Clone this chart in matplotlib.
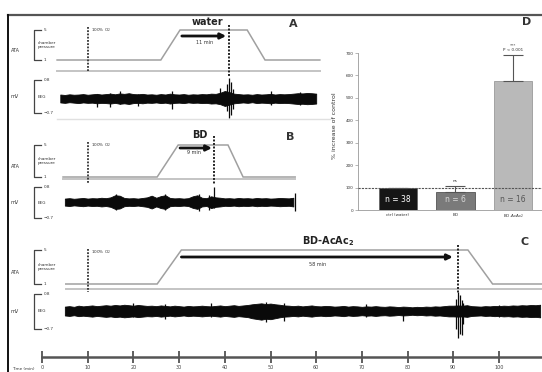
import matplotlib
matplotlib.use('Agg')
import matplotlib.pyplot as plt
from matplotlib.lines import Line2D
from matplotlib.transforms import Affine2D, blended_transform_factory
import numpy as np

# ---------------- data ----------------
time_ticks = [0, 10, 20, 30, 40, 50, 60, 70, 80, 90, 100]
o2_time = 10
compounds = ['water', 'BD', r'BD-AcAc$_\mathbf{2}$']
latency_labels = ['11 min', '9 min', '58 min']

# chamber pressure profiles (min, ATA)
pressA_t = [3.3, 26.0, 30.2, 44.9, 48.8, 60.8]
pressB_t = [4.6, 25.2, 29.8, 40.7, 44.0, 55.4]
pressC_t = [5.2, 25.2, 30.5, 93.2, 98.6, 109.4]
press_v = [1, 1, 5, 5, 1, 1]

seizure_t = [40.9, 37.6, 91.0]
arrow_start = [30.6, 30.2, 30.5]
arrow_end = [40.3, 37.2, 89.9]

# EEG envelopes (mV), one value per minute
eegA_start = 4
eegA_hi = [0.14, 0.12, 0.15, 0.13, 0.14, 0.16, 0.13, 0.15, 0.17, 0.14,
           0.16, 0.18, 0.15, 0.19, 0.17, 0.20, 0.16, 0.15, 0.17, 0.14,
           0.15, 0.13, 0.16, 0.14, 0.18, 0.15, 0.14, 0.16, 0.13, 0.15,
           0.14, 0.16, 0.15, 0.18, 0.17, 0.22, 0.30, 0.25, 0.18, 0.16,
           0.14, 0.15, 0.13, 0.16, 0.14, 0.15, 0.17, 0.14, 0.16, 0.15,
           0.16, 0.18, 0.20, 0.19, 0.21, 0.20, 0.18]
eegA_lo = [-0.22, -0.24, -0.21, -0.23, -0.25, -0.22, -0.24, -0.23, -0.26, -0.24,
           -0.25, -0.27, -0.24, -0.28, -0.26, -0.29, -0.25, -0.24, -0.26, -0.23,
           -0.24, -0.22, -0.25, -0.23, -0.27, -0.24, -0.23, -0.25, -0.22, -0.24,
           -0.23, -0.25, -0.24, -0.27, -0.26, -0.30, -0.38, -0.32, -0.26, -0.24,
           -0.22, -0.24, -0.21, -0.25, -0.23, -0.24, -0.26, -0.23, -0.25, -0.24,
           -0.25, -0.27, -0.29, -0.28, -0.30, -0.29, -0.27]
spkA_t = [12.0, 14.9, 17.0, 21.0, 28.4, 39.0, 40.5, 40.9, 41.3, 41.8, 50.0, 56.5]
spkA_hi = [0.15, 0.20, 0.30, 0.15, 0.28, 0.45, 0.60, 0.90, 0.70, 0.40, 0.30, 0.25]
spkA_lo = [-0.45, -0.42, -0.30, -0.40, -0.50, -0.25, -0.60, -0.93, -0.80, -0.50, -0.35, -0.35]

eegB_start = 5
eegB_hi = [0.24, 0.26, 0.23, 0.25, 0.27, 0.24, 0.26, 0.25, 0.28, 0.26,
           0.30, 0.40, 0.38, 0.27, 0.25, 0.26, 0.24, 0.27, 0.30, 0.38,
           0.28, 0.36, 0.40, 0.27, 0.25, 0.26, 0.24, 0.26, 0.35, 0.40,
           0.28, 0.26, 0.35, 0.30, 0.28, 0.25, 0.26, 0.24, 0.27, 0.25,
           0.26, 0.24, 0.27, 0.25, 0.26, 0.24, 0.25, 0.27, 0.26, 0.25, 0.28]
eegB_lo = [-0.10, -0.12, -0.09, -0.11, -0.13, -0.10, -0.12, -0.11, -0.14, -0.12,
           -0.16, -0.26, -0.24, -0.13, -0.11, -0.12, -0.10, -0.13, -0.16, -0.24,
           -0.14, -0.22, -0.26, -0.13, -0.11, -0.12, -0.10, -0.12, -0.21, -0.26,
           -0.14, -0.12, -0.22, -0.16, -0.14, -0.11, -0.12, -0.10, -0.13, -0.11,
           -0.12, -0.10, -0.13, -0.11, -0.12, -0.10, -0.11, -0.13, -0.12, -0.11, -0.14]
spkB_t = [16.2, 26.9, 34.3, 36.5, 37.6, 55.4]
spkB_hi = [0.45, 0.45, 0.45, 0.40, 0.80, 0.50]
spkB_lo = [-0.30, -0.30, -0.35, -0.30, -0.20, -0.35]

eegC_start = 5
eegC_hi = [0.26, 0.28, 0.25, 0.30, 0.27, 0.29, 0.31, 0.28, 0.30, 0.32,
           0.30, 0.33, 0.31, 0.34, 0.32, 0.30, 0.33, 0.31, 0.29, 0.30,
           0.28, 0.31, 0.29, 0.27, 0.30, 0.28, 0.26, 0.29, 0.27, 0.28,
           0.30, 0.28, 0.27, 0.29, 0.31, 0.28, 0.30, 0.32, 0.29, 0.31,
           0.33, 0.36, 0.38, 0.40, 0.37, 0.39, 0.36, 0.34, 0.31, 0.30,
           0.28, 0.30, 0.27, 0.29, 0.31, 0.28, 0.27, 0.29, 0.28, 0.26,
           0.27, 0.29, 0.26, 0.28, 0.27, 0.25, 0.27, 0.26, 0.28, 0.26,
           0.25, 0.27, 0.26, 0.24, 0.26, 0.25, 0.23, 0.25, 0.24, 0.26,
           0.25, 0.27, 0.26, 0.28, 0.30, 0.30, 0.31, 0.30, 0.32, 0.28,
           0.27, 0.26, 0.28, 0.27, 0.29, 0.28, 0.30, 0.29, 0.31, 0.30,
           0.32, 0.31, 0.33, 0.32, 0.34]
eegC_lo = [-0.12, -0.14, -0.11, -0.15, -0.13, -0.15, -0.17, -0.14, -0.16, -0.18,
           -0.16, -0.19, -0.17, -0.20, -0.18, -0.16, -0.19, -0.17, -0.15, -0.16,
           -0.14, -0.17, -0.15, -0.13, -0.16, -0.14, -0.12, -0.15, -0.13, -0.14,
           -0.16, -0.14, -0.13, -0.15, -0.17, -0.14, -0.16, -0.18, -0.15, -0.17,
           -0.19, -0.24, -0.27, -0.30, -0.26, -0.28, -0.24, -0.20, -0.17, -0.16,
           -0.14, -0.16, -0.13, -0.15, -0.17, -0.14, -0.13, -0.15, -0.14, -0.12,
           -0.13, -0.15, -0.12, -0.14, -0.13, -0.11, -0.13, -0.12, -0.14, -0.12,
           -0.11, -0.13, -0.12, -0.10, -0.12, -0.11, -0.09, -0.11, -0.10, -0.12,
           -0.11, -0.13, -0.12, -0.14, -0.16, -0.16, -0.17, -0.16, -0.18, -0.14,
           -0.13, -0.12, -0.14, -0.13, -0.15, -0.14, -0.16, -0.15, -0.17, -0.16,
           -0.18, -0.17, -0.19, -0.18, -0.20]
spkC_t = [20.0, 27.0, 37.0, 49.0, 53.0, 71.0, 79.0, 90.7, 91.0, 91.4, 91.8, 92.2, 100.0]
spkC_hi = [0.42, 0.38, 0.40, 0.45, 0.42, 0.38, 0.22, 0.60, 0.90, 0.75, 0.55, 0.40, 0.35]
spkC_lo = [-0.20, -0.25, -0.20, -0.40, -0.35, -0.20, -0.35, -0.70, -1.08, -0.90, -0.95, -0.50, -0.20]

# bar chart (panel D)
bar_labels = ['ctrl (water)', 'BD', r'BD-AcAc$_2$']
bar_values = [100, 80, 576]
bar_err = [0, 27, 116]
bar_n = ['n = 38', 'n = 6', 'n = 16']
bar_sig = ['', 'ns', '***\nP < 0.001']
bar_ticks = [0, 100, 200, 300, 400, 500, 600, 700]

# ---------------- layout ----------------
W, H = 542, 372
plt.rcParams['font.family'] = ['DejaVu Sans']
fig = plt.figure(figsize=(W / 100, H / 100), dpi=100)
fig.patch.set_facecolor('white')
pix = Affine2D().scale(1.0 / W, -1.0 / H).translate(0, 1) + fig.transFigure

PX0, PXM = 42.0, 4.57
T_LIM = (-PX0 / PXM, (W - PX0) / PXM)

def add_ax(x0, y0, x1, y1):
    ax = fig.add_axes([x0 / W, 1 - y1 / H, (x1 - x0) / W, (y1 - y0) / H])
    ax.set_facecolor('none')
    return ax

def ptext(x, y, s, **kw):
    kw.setdefault('fontsize', 3.5)
    kw.setdefault('color', '#333333')
    fig.text(x, y, s, transform=pix, **kw)

def pline(xs, ys, **kw):
    fig.add_artist(Line2D(xs, ys, transform=pix, **kw))

# frame
pline([8, W], [15, 15], color='#555555', lw=1.6)
pline([8, 8], [15, H], color='#111111', lw=1.4)

GRAY = '#a0a0a0'
SEP = '#c4c4c4'

panels = [
    dict(pt=pressA_t, p5=30, p1=60, e8=80, e7=113, sep=71,
         eeg=(eegA_start, eegA_hi, eegA_lo), spk=(spkA_t, spkA_hi, spkA_lo),
         o2y=(27, 71), szy=(25, 76), arry=36, title_xy=(207, 22), lat_xy=(205, 42),
         letter='A', letter_xy=(293, 24)),
    dict(pt=pressB_t, p5=145, p1=177, e8=187, e7=218, sep=179,
         eeg=(eegB_start, eegB_hi, eegB_lo), spk=(spkB_t, spkB_hi, spkB_lo),
         o2y=(142, 184), szy=(136, 184), arry=148, title_xy=(200, 135), lat_xy=(194, 153),
         letter='B', letter_xy=(290, 137)),
    dict(pt=pressC_t, p5=250, p1=284, e8=294, e7=329, sep=289,
         eeg=(eegC_start, eegC_hi, eegC_lo), spk=(spkC_t, spkC_hi, spkC_lo),
         o2y=(249, 292), szy=(245, 293), arry=257, title_xy=(328, 241), lat_xy=(318, 264),
         letter='C', letter_xy=(525, 242)),
]

for i, p in enumerate(panels):
    # pressure trace
    axp = add_ax(0, p['p5'], W, p['p1'])
    axp.set_xlim(*T_LIM)
    axp.set_ylim(1, 5)
    axp.axis('off')
    axp.plot(p['pt'], press_v, color=GRAY, lw=1.1, clip_on=False, solid_joinstyle='miter')
    bl = blended_transform_factory(axp.transData, pix)
    axp.plot([p['pt'][0], p['pt'][-1]], [p['sep'], p['sep']], transform=bl,
             color=SEP, lw=1.4, clip_on=False)
    # O2 and seizure markers
    axp.plot([o2_time, o2_time], p['o2y'], transform=bl, color='#333333', lw=1.3,
             ls=(0, (1, 0.8)), clip_on=False)
    axp.plot([seizure_t[i], seizure_t[i]], p['szy'], transform=bl, color='#222222', lw=1.4,
             ls=(0, (1, 0.8)), clip_on=False)
    axp.annotate('', xy=(arrow_end[i], p['arry']), xytext=(arrow_start[i], p['arry']),
                 xycoords=bl, textcoords=bl,
                 arrowprops=dict(arrowstyle='-|>', color='#111111', lw=2.0,
                                 mutation_scale=8, shrinkA=0, shrinkB=0))
    ptext(p['lat_xy'][0], p['lat_xy'][1], latency_labels[i], fontsize=3.5,
          ha='center', va='center')
    ptext(p['title_xy'][0], p['title_xy'][1], compounds[i], fontsize=7, fontweight='bold',
          ha='center', va='center', color='#222222')
    ptext(p['letter_xy'][0], p['letter_xy'][1], p['letter'], fontsize=8, fontweight='bold',
          ha='center', va='center', color='#333333')
    ptext(o2_time * PXM + PX0 + 3, p['o2y'][0] + 3, '100% O$_2$', fontsize=3,
          ha='left', va='center')

    # pressure bracket
    pline([41, 34, 34, 41], [p['p5'], p['p5'], p['p1'], p['p1']], color='#444444', lw=0.9)
    ptext(44, p['p5'], '5', fontsize=3, ha='left', va='center')
    ptext(44, p['p1'], '1', fontsize=3, ha='left', va='center')
    ptext(38, (p['p5'] + p['p1']) / 2, 'chamber\npressure', fontsize=3, ha='left',
          va='center', linespacing=1.3)
    ptext(15, (p['p5'] + p['p1']) / 2 + 6, 'ATA', fontsize=3.5, ha='center', va='center')

    # EEG trace
    axe = add_ax(0, p['e8'], W, p['e7'])
    axe.set_xlim(*T_LIM)
    axe.set_ylim(-0.7, 0.8)
    axe.axis('off')
    st, hi, lo = p['eeg']
    n = min(len(hi), len(lo))
    tt = st + np.arange(n)
    axe.fill_between(tt, lo[:n], hi[:n], color='#0a0a0a', lw=0.6,
                     edgecolor='#0a0a0a', clip_on=False)
    axe.vlines(p['spk'][0], p['spk'][2], p['spk'][1], color='#0a0a0a', lw=0.9,
               clip_on=False)
    pline([41, 34, 34, 41], [p['e8'], p['e8'], p['e7'], p['e7']], color='#444444', lw=0.9)
    ptext(44, p['e8'], '0.8', fontsize=3, ha='left', va='center')
    ptext(44, p['e7'], '\u22120.7', fontsize=3, ha='left', va='center')
    ptext(38, (p['e8'] + p['e7']) / 2, 'EEG', fontsize=3, ha='left', va='center')
    ptext(15, (p['e8'] + p['e7']) / 2, 'mV', fontsize=3.5, ha='center', va='center')

# faint line under panel A
pline([57, 330], [119, 119], color='#e0e0e0', lw=1.0)

# time axis
axt = add_ax(0, 340, W, 357)
axt.set_xlim(*T_LIM)
for s in ['top', 'left', 'right']:
    axt.spines[s].set_visible(False)
axt.spines['bottom'].set_bounds(0, T_LIM[1])
axt.spines['bottom'].set_color('#555555')
axt.spines['bottom'].set_linewidth(1.8)
axt.set_yticks([])
axt.set_xticks(time_ticks)
axt.set_xticklabels([str(v) for v in time_ticks])
axt.tick_params(axis='x', direction='inout', length=8, width=1.2, colors='#444444',
                labelsize=3.5, pad=2)
ptext(12, 371, 'Time (min)', fontsize=3, ha='left', va='bottom')

# panel D bar chart
axd = add_ax(358, 53, W, 210)
xpos = np.arange(len(bar_values))
axd.set_xlim(-0.69, 2.5)
axd.set_ylim(0, 700)
axd.bar(xpos, bar_values, width=0.66, color=['#161616', '#7a7a7a', '#b9b9b9'],
        edgecolor=['#666666', '#555555', '#9a9a9a'], lw=0.6, zorder=2)
axd.errorbar(xpos, bar_values, yerr=[[0] * len(bar_err), bar_err], fmt='none',
             ecolor='#555555', elinewidth=0.8, capsize=7, capthick=0.8, zorder=3)
axd.axhline(100, color='#555555', lw=0.8, ls=(0, (2, 1)), zorder=4, clip_on=False)
n_colors = ['white', '#d8d8d8', '#555555']
for x, lab, c in zip(xpos, bar_n, n_colors):
    axd.text(x, 45, lab, ha='center', va='center', fontsize=5.5, color=c, zorder=5)
for x, v, e, s in zip(xpos, bar_values, bar_err, bar_sig):
    if s:
        axd.text(x, v + e + 14, s, ha='center', va='bottom', fontsize=3,
                 color='#333333', linespacing=1.2)
for s in ['top', 'right']:
    axd.spines[s].set_visible(False)
for s in ['left', 'bottom']:
    axd.spines[s].set_color('#999999')
    axd.spines[s].set_linewidth(0.6)
axd.set_yticks(bar_ticks)
axd.set_yticklabels([str(v) for v in bar_ticks])
axd.set_xticks(xpos)
axd.set_xticklabels(bar_labels)
axd.tick_params(axis='both', length=2, width=0.5, colors='#999999', labelsize=3,
                labelcolor='#333333', pad=1.5)
axd.tick_params(axis='x', length=0, pad=2)
ptext(334, 126, '% increase of control', fontsize=4.5, rotation=90, ha='center', va='center')
ptext(527, 22, 'D', fontsize=8, fontweight='bold', ha='center', va='center')

fig.savefig('out.png', dpi=100, facecolor='white')
